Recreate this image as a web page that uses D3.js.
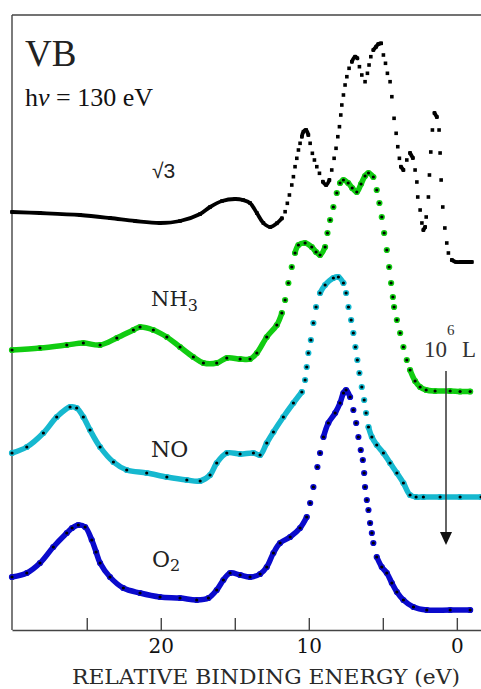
<!DOCTYPE html>
<html><head><meta charset="utf-8">
<script src="https://cdn.jsdelivr.net/npm/d3@7"></script>
<style>html,body{margin:0;padding:0;background:#fff;}svg{display:block;}</style>
</head><body>
<svg id="chart" width="481" height="689"></svg>
<script>
// ---- data (energy in eV, intensity in arbitrary units incl. vertical offset) ----
const sqrt3Energy = [30.05,28.16,25.45,23.43,21.74,20.05,18.70,17.34,16.67,15.86,14.98,14.44,13.97,13.51,13.07,12.61,12.16,11.82,11.60,11.45,11.31,11.15,11.04,10.93,10.81,10.70,10.59,10.47,10.36,10.18,10.03,9.91,9.76,9.62,9.46,9.28,9.05,8.83,8.61,8.45,8.29,8.16,8.04,7.93,7.84,7.77,7.66,7.55,7.43,7.28,7.09,6.87,6.72,6.58,6.42,6.20,6.04,5.93,5.81,5.64,5.45,5.30,5.11,4.96,4.82,4.69,4.51,4.39,4.24,4.10,3.99,3.88,3.78,3.61,3.38,3.16,2.97,2.82,2.70,2.64,2.48,2.36,2.26,2.14,2.07,1.92,1.85,1.76,1.65,1.51,1.35,1.20,1.13,1.06,0.95,0.81,0.68,0.57,0.34,0.05,-0.22,-0.63,-1.01];
const sqrt3Intensity = [41.8,41.7,41.5,41.2,40.9,40.7,40.9,41.6,42.3,42.9,43.1,43.0,42.7,41.7,40.7,40.3,40.67,41.17,41.83,42.67,43.5,44.5,45.33,46.33,47.17,48.0,48.67,49.33,49.83,50.0,49.5,48.67,47.67,47.0,46.33,45.67,44.83,44.5,45.0,46.0,47.17,48.17,49.33,50.33,51.5,52.5,53.5,54.5,55.33,56.17,56.83,57.33,57.17,56.33,55.5,54.83,55.67,56.5,57.33,58.0,58.33,58.6,58.67,57.5,56.67,55.67,54.83,53.33,51.17,49.67,48.33,47.17,46.33,46.0,47.0,47.7,47.2,46.0,44.8,43.3,42.0,40.7,40.0,40.3,41.3,43.3,45.5,47.8,50.0,51.7,51.3,50.0,47.7,45.0,42.3,40.2,38.7,37.7,37.0,36.8,36.8,36.8,36.8];

const nh3Energy = [30.05,28.16,26.35,25.23,24.10,22.97,21.85,21.40,20.50,19.59,18.70,17.80,17.12,16.22,15.54,14.64,13.97,13.51,12.84,12.16,11.82,11.60,11.38,11.15,10.93,10.70,10.25,9.80,9.51,9.24,8.90,8.74,8.56,8.34,8.11,7.89,7.66,7.34,7.07,6.76,6.47,6.20,5.97,5.64,5.41,5.23,5.07,4.91,4.73,4.57,4.44,4.32,4.24,4.05,3.83,3.61,3.38,3.16,2.82,2.48,2.07,1.47,0.45,-0.22,-0.90];
const nh3Intensity = [28.0,28.2,28.5,28.7,28.5,29.2,30.0,30.3,30.0,29.3,28.3,27.3,26.7,26.7,27.2,27.1,27.1,27.7,29.3,30.5,31.7,33.0,34.7,36.3,37.7,38.5,38.7,38.3,37.8,37.5,38.3,39.7,41.0,42.3,43.7,44.7,45.0,44.7,44.2,43.8,44.6,45.4,45.7,45.3,44.0,42.7,41.3,39.7,38.0,36.3,34.7,33.3,32.3,31.0,29.7,28.3,27.0,26.0,24.9,24.3,24.0,23.9,23.9,23.85,23.85];

const noEnergy = [30.05,29.05,27.93,27.03,26.13,25.68,25.23,24.78,24.10,23.20,22.30,20.95,19.59,18.24,17.34,16.67,16.22,15.54,14.64,13.74,13.29,12.84,12.39,11.72,11.04,10.47,10.25,10.14,10.03,9.86,9.69,9.51,9.24,8.90,8.34,8.00,7.66,7.48,7.32,7.14,6.99,6.85,6.72,6.58,6.42,6.26,6.13,5.97,5.74,5.41,4.96,4.51,4.05,3.61,3.16,2.75,2.26,1.13,-0.22,-1.64];
const noIntensity = [17.7,18.3,19.7,21.3,22.3,22.2,21.3,20.0,18.3,16.8,16.0,15.7,15.3,15.0,14.9,15.5,16.7,17.7,17.6,17.7,17.5,18.7,19.8,21.3,22.7,23.8,25.0,26.3,27.7,29.0,30.7,32.3,33.7,34.5,35.2,35.3,34.7,33.7,32.3,31.0,29.7,28.3,27.0,25.7,24.3,23.0,21.7,20.3,19.3,18.5,17.7,16.7,15.7,14.7,13.5,13.3,13.3,13.3,13.3,13.3];

const o2Energy = [30.05,29.05,28.16,27.26,26.35,25.99,25.57,25.11,24.66,24.37,24.10,23.43,22.53,21.40,20.05,18.70,17.57,16.78,16.22,15.77,15.32,14.64,13.97,13.29,12.84,12.39,11.94,11.26,10.59,10.14,9.91,9.69,9.42,9.24,9.01,8.68,8.22,7.89,7.66,7.48,7.21,6.99,6.80,6.65,6.49,6.35,6.26,6.20,6.08,5.97,5.86,5.74,5.64,5.41,5.07,4.73,4.39,4.05,3.61,2.93,2.03,0.45,-0.90];
const o2Intensity = [5.3,5.7,6.7,8.3,9.7,10.2,10.5,10.3,9.0,7.8,6.7,5.3,4.2,3.7,3.3,3.2,3.0,3.2,4.0,5.0,5.7,5.5,5.3,5.6,6.3,7.7,8.7,9.3,10.2,11.3,12.7,14.3,16.3,17.7,19.3,20.7,21.7,22.7,23.7,24.0,23.3,22.0,20.7,19.3,18.0,17.0,15.7,14.3,13.0,12.0,10.7,9.7,8.7,7.3,6.3,5.7,4.7,3.8,3.0,2.3,2.0,2.0,2.0];

const seriesNames = ["√3", "NH3", "NO", "O2"];
const seriesColors = ["#000000", "#11cc11", "#16b8cf", "#0a0acc"];
const tickValues = [25, 20, 15, 10, 5, 0];
const tickLabels = {20: "20", 10: "10", 0: "0"};
const xTitle = "RELATIVE BINDING ENERGY (eV)";

// ---- layout ----
const svg = d3.select("#chart");
const plotLeft = 12, plotRight = 482, plotTop = 15, plotBottom = 630;
const x = d3.scaleLinear().domain([30.05, -1.7]).range([plotLeft, plotRight]);
const y = d3.scaleLinear().domain([0, 61.5]).range([plotBottom, plotTop]);

// frame
svg.append("line").attr("x1", plotLeft).attr("x2", plotLeft).attr("y1", plotTop).attr("y2", plotBottom)
  .attr("stroke", "#444").attr("stroke-width", 1.4);
svg.append("line").attr("x1", plotLeft).attr("x2", 481).attr("y1", plotTop).attr("y2", plotTop)
  .attr("stroke", "#444").attr("stroke-width", 1.4);

// axis
const axis = d3.axisBottom(x).tickValues(tickValues).tickSize(-12).tickSizeOuter(0).tickPadding(9)
  .tickFormat(d => tickLabels[d] || "");
const gx = svg.append("g").attr("transform", `translate(0,${plotBottom})`).call(axis);
gx.select(".domain").attr("stroke", "#444").attr("stroke-width", 1.4);
gx.selectAll(".tick line").attr("stroke", "#444").attr("stroke-width", 1.4);
gx.selectAll(".tick text").attr("font-family", "DejaVu Serif").attr("font-size", 20).attr("fill", "#111");

svg.append("text").attr("x", 72).attr("y", 684).attr("font-family", "DejaVu Serif")
  .attr("font-size", 20).attr("fill", "#2a2a2a").attr("textLength", 388).attr("lengthAdjust", "spacingAndGlyphs")
  .text(xTitle);

// series
const seriesE = [sqrt3Energy, nh3Energy, noEnergy, o2Energy];
const seriesI = [sqrt3Intensity, nh3Intensity, noIntensity, o2Intensity];

seriesE.forEach((E, s) => {
  const I = seriesI[s];
  const color = seriesColors[s];
  const isBlack = s === 0;
  const slopeLimit = isBlack ? 2.0 : 3.0;
  const gapLimit = isBlack ? 5 : 7;
  const pts = E.map((e, i) => [x(e), y(I[i])]);
  const runs = [];
  let cur = [pts[0]];
  for (let i = 1; i < pts.length; i++) {
    const dx = pts[i][0] - pts[i - 1][0], dy = pts[i][1] - pts[i - 1][1];
    if (Math.abs(dy) > slopeLimit * Math.abs(dx) && Math.abs(dy) > gapLimit) { runs.push(cur); cur = [pts[i]]; }
    else cur.push(pts[i]);
  }
  runs.push(cur);
  const line = d3.line().curve(d3.curveCatmullRom.alpha(0.5));
  const g = svg.append("g");
  runs.forEach(r => {
    if (r.length > 1) g.append("path").attr("d", line(r)).attr("fill", "none")
      .attr("stroke", color).attr("stroke-width", isBlack ? 3.8 : 5.5).attr("stroke-linecap", "round").attr("stroke-linejoin", "round");
  });
  if (isBlack) {
    g.selectAll("rect").data(pts).join("rect").attr("x", d => d[0] - 1.8).attr("y", d => d[1] - 1.8)
      .attr("width", 3.6).attr("height", 3.6).attr("fill", "#000");
  } else {
    g.selectAll("circle.h").data(pts).join("circle").attr("class", "h").attr("cx", d => d[0]).attr("cy", d => d[1])
      .attr("r", 3.1).attr("fill", color);
    g.selectAll("circle.c").data(pts).join("circle").attr("class", "c").attr("cx", d => d[0]).attr("cy", d => d[1])
      .attr("r", 1.6).attr("fill", "#000");
  }
});

// labels
svg.append("text").attr("x", 25).attr("y", 66).attr("font-family", "Liberation Serif").attr("font-size", 37).attr("fill", "#222").text("VB");
const hv = svg.append("text").attr("x", 25).attr("y", 106).attr("font-family", "Liberation Serif").attr("font-size", 26).attr("fill", "#111");
hv.append("tspan").text("h");
hv.append("tspan").attr("font-style", "italic").text("ν");
hv.append("tspan").text(" = 130 eV");

svg.append("text").attr("x", 152).attr("y", 178).attr("font-family", "Liberation Sans").attr("font-size", 21).attr("fill", "#222").text(seriesNames[0]);

const nh = svg.append("text").attr("x", 151).attr("y", 306).attr("font-family", "DejaVu Serif").attr("font-size", 21).attr("fill", "#222");
nh.append("tspan").text("NH");
nh.append("tspan").attr("dy", 5).attr("font-size", 16).text("3");

svg.append("text").attr("x", 151).attr("y", 457).attr("font-family", "DejaVu Serif").attr("font-size", 22).attr("fill", "#222").text(seriesNames[2]);

const o2 = svg.append("text").attr("x", 152).attr("y", 567).attr("font-family", "DejaVu Serif").attr("font-size", 22).attr("fill", "#222");
o2.append("tspan").text("O");
o2.append("tspan").attr("dy", 4).attr("font-size", 16).text("2");

// dose label and arrow
const dose = svg.append("text").attr("y", 357).attr("font-family", "Liberation Serif").attr("font-size", 23).attr("fill", "#333");
dose.append("tspan").attr("x", 424).text("10");
dose.append("tspan").attr("x", 447).attr("dy", -22).attr("font-size", 15).text("6");
dose.append("tspan").attr("x", 462).attr("dy", 22).text("L");

svg.append("line").attr("x1", 446).attr("x2", 446).attr("y1", 371).attr("y2", 535).attr("stroke", "#333").attr("stroke-width", 1.5);
svg.append("path").attr("d", "M440,532 L452,532 L446,545 Z").attr("fill", "#111");
</script>
</body></html>
